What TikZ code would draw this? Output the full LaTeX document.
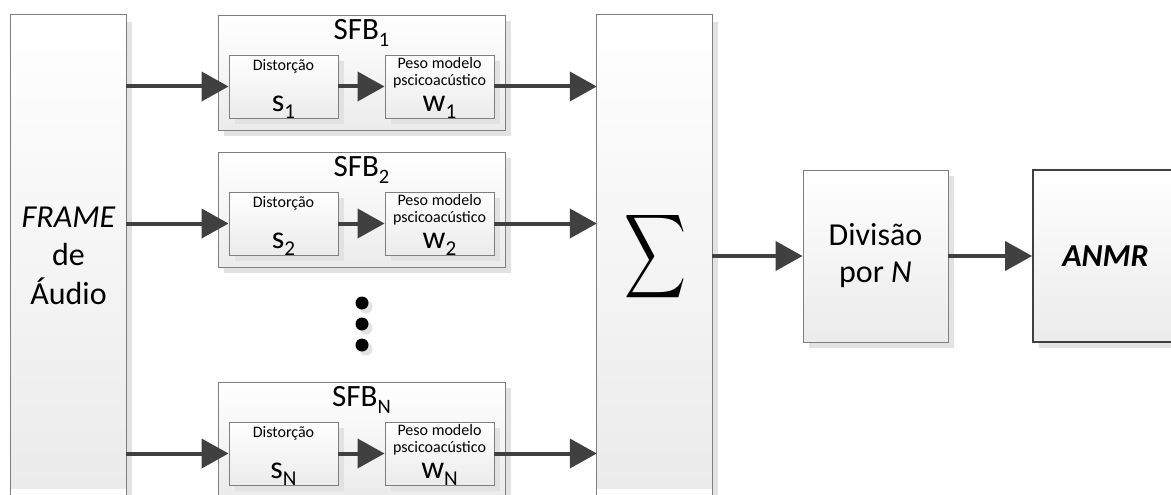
\documentclass[tikz,border=0pt]{standalone}
\usepackage{fontspec}
\setmainfont{Carlito}
\usepackage{graphicx}
\usetikzlibrary{arrows.meta,shadows,calc}
\definecolor{edgec}{HTML}{7F7F7F}
\definecolor{flowc}{HTML}{404040}
\definecolor{shadec}{HTML}{E2E2E2}
\definecolor{boxlow}{HTML}{EBEBEB}
\newcommand{\idx}[1]{\raisebox{-0.22em}{\scalebox{0.66}{#1}}}
\tikzset{
  blk/.style={draw=edgec, line width=0.9pt, top color=white, bottom color=boxlow,
    inner sep=0pt, general shadow={fill=shadec, shadow xshift=6pt, shadow yshift=-6pt}},
  tallblk/.style={top color=white, bottom color=boxlow, inner sep=0pt,
    minimum width=115pt, minimum height=473pt},
  sfbbox/.style={blk, minimum width=287pt, minimum height=115pt},
  innerbox/.style={blk, minimum width=109pt, minimum height=63pt},
  flowarrow/.style={draw=flowc, line width=4pt, -{Triangle[length=27pt,width=29pt]}},
  lbl/.style={inner sep=0pt, anchor=base},
  bigtxt/.style={lbl, font=\fontsize{32}{34}\selectfont},
  smalltxt/.style={lbl, font=\fontsize{16}{17}\selectfont},
  titletxt/.style={lbl, font=\fontsize{31}{33}\selectfont},
  dotc/.style={circle, fill=black, inner sep=0pt, minimum size=13pt,
    general shadow={fill=shadec, shadow xshift=4pt, shadow yshift=-4pt}},
}
\begin{document}
\begin{tikzpicture}[x=1pt,y=-1pt]
\useasboundingbox (0,0) rectangle (1171,495);
\clip (0,0) rectangle (1171,495);

% input frame column (runs off the bottom edge)
\fill[shadec] (126,22) rectangle (132,500);
\node[tallblk] (frame) at (68.5,251.5) {};
\draw[edgec, line width=0.9pt] ([yshift=-10pt]frame.south west) -- (frame.north west)
  -- (frame.north east) -- ([yshift=-10pt]frame.south east);
\node[bigtxt] (t1) at (68.5,227) {\itshape FRAME};
\node[bigtxt] (t2) at (68.5,265) {de};
\node[bigtxt] (t3) at (68.5,304) {Áudio};

% summation column
\fill[shadec] (712,22) rectangle (718,500);
\node[tallblk] (sum) at (654.5,251.5) {};
\draw[edgec, line width=0.9pt] ([yshift=-10pt]sum.south west) -- (sum.north west)
  -- (sum.north east) -- ([yshift=-10pt]sum.south east);
\node[inner sep=0pt] (sigma) at (656,257) {\resizebox*{62pt}{94pt}{$\displaystyle\sum$}};

% sub-band filter blocks
\foreach \k/\top/\sb in {1/15/1, 2/152/2, N/382/N}{
  \node[sfbbox] (sfb\k) at (361.5,\top+57.5) {};
  \node[titletxt] (sfbt\k) at ($(sfb\k.north)+(0,25)$) {SFB\idx{\sb}};
  \node[innerbox] (d\k) at (283.5,\top+40+31.5) {};
  \node[innerbox] (p\k) at (439.5,\top+40+31.5) {};
  \node[smalltxt] (dl\k) at ($(d\k.north)+(0,16)$) {Distorção};
  \node[bigtxt] (ds\k) at ($(d\k.south)+(0,-7)$) {s\idx{\sb}};
  \node[smalltxt] (pa\k) at ($(p\k.north)+(0,14)$) {Peso modelo};
  \node[smalltxt] (pb\k) at ($(p\k.north)+(0,31)$) {pscicoacústico};
  \node[bigtxt] (pw\k) at ($(p\k.south)+(0,-7)$) {w\idx{\sb}};
  \draw[flowarrow] (frame.east |- d\k.west) -- (d\k.west);
  \draw[flowarrow] (d\k.east) -- (p\k.west);
  \draw[flowarrow] (p\k.east) -- (p\k.east -| sum.west);
}

% vertical ellipsis between the second and last blocks
\node[dotc] (e1) at (362,303) {};
\node[dotc] (e2) at (362,324) {};
\node[dotc] (e3) at (362,345) {};

% division and final measure
\node[blk, minimum width=145pt, minimum height=172pt, align=center,
  font=\fontsize{32}{37}\selectfont] (div) at (875.5,256) {Divisão\\por \textit{N}};
\node[blk, draw=flowc, line width=1.8pt, minimum width=145pt, minimum height=172pt,
  font=\fontsize{32}{34}\selectfont\bfseries\itshape] (anmr) at (1105.5,256) {ANMR};
\draw[flowarrow] (sum.east |- div.west) -- (div.west);
\draw[flowarrow] (div.east) -- (anmr.west);
\end{tikzpicture}
\end{document}
